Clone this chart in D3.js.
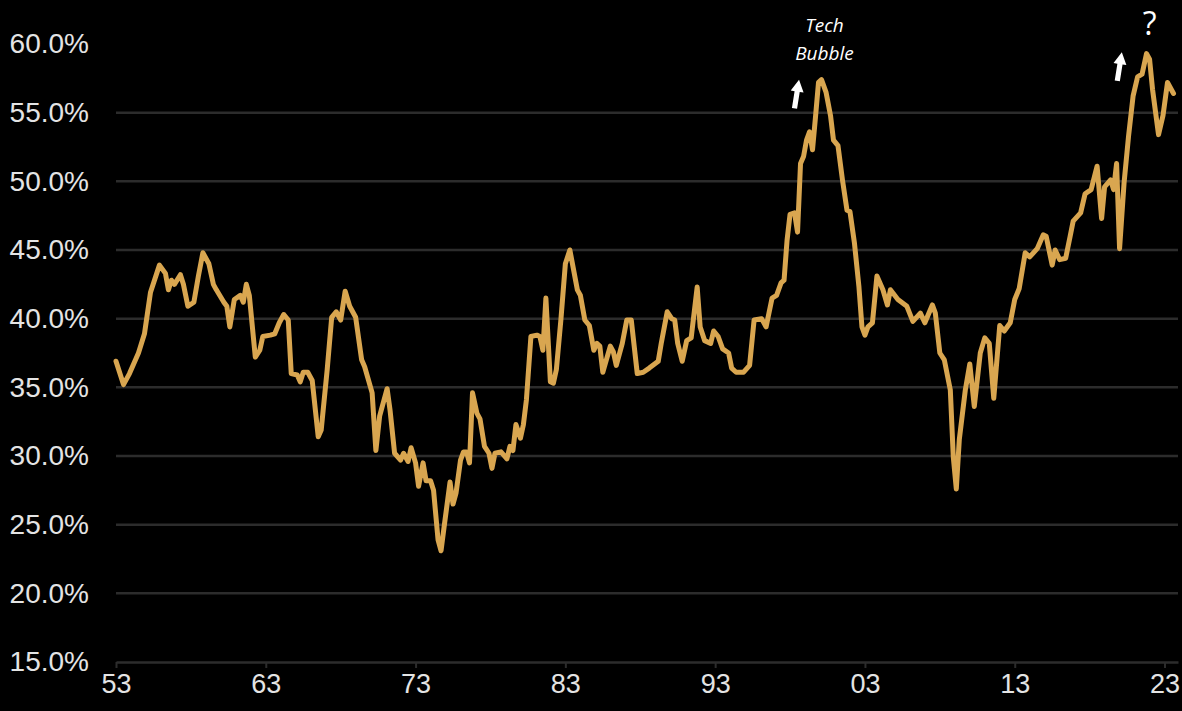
<!DOCTYPE html>
<html>
<head>
<meta charset="utf-8">
<script src="https://cdn.jsdelivr.net/npm/d3@7/dist/d3.min.js"></script>
<style>
  html, body { margin: 0; padding: 0; background: #000; }
  svg { display: block; }
</style>
</head>
<body>
<svg id="chart" width="1182" height="711"></svg>
<script>
// Share of household financial assets held in equities (%), by year
const dates = [
  1953.0, 1953.5, 1953.9, 1954.5, 1954.9, 1955.3, 1955.9, 1956.3, 1956.5, 1956.7,
  1956.9, 1957.3, 1957.5, 1957.8, 1958.2, 1958.5, 1958.8, 1959.2, 1959.5, 1959.7,
  1960.2, 1960.4, 1960.6, 1960.9, 1961.3, 1961.5, 1961.7, 1961.9, 1962.3, 1962.6,
  1962.8, 1963.3, 1963.6, 1963.9, 1964.2, 1964.5, 1964.7, 1965.1, 1965.3, 1965.5,
  1965.8, 1966.1, 1966.5, 1966.7, 1967.1, 1967.4, 1967.7, 1968.0, 1968.3, 1968.6,
  1969.0, 1969.4, 1969.6, 1970.1, 1970.35, 1970.6, 1971.1, 1971.3, 1971.6, 1972.0,
  1972.2, 1972.5, 1972.7, 1973.0, 1973.2, 1973.5, 1973.7, 1974.0, 1974.2, 1974.5,
  1974.7, 1974.9, 1975.3, 1975.5, 1975.7, 1976.0, 1976.2, 1976.4, 1976.6, 1976.8,
  1977.1, 1977.3, 1977.6, 1977.9, 1978.1, 1978.3, 1978.7, 1979.1, 1979.3, 1979.5,
  1979.7, 1980.0, 1980.2, 1980.4, 1980.7, 1981.1, 1981.3, 1981.5, 1981.7, 1982.0,
  1982.2, 1982.4, 1982.7, 1983.0, 1983.3, 1983.8, 1984.0, 1984.3, 1984.6, 1984.9,
  1985.1, 1985.3, 1985.5, 1986.0, 1986.2, 1986.4, 1986.8, 1987.1, 1987.4, 1987.8,
  1988.2, 1988.6, 1989.2, 1989.4, 1989.8, 1990.1, 1990.3, 1990.5, 1990.8, 1991.1,
  1991.4, 1991.8, 1992.0, 1992.3, 1992.7, 1992.9, 1993.2, 1993.5, 1993.9, 1994.1,
  1994.4, 1994.9, 1995.3, 1995.6, 1996.1, 1996.4, 1996.8, 1997.1, 1997.4, 1997.6,
  1997.8, 1998.0, 1998.3, 1998.5, 1998.7, 1998.9, 1999.1, 1999.3, 1999.5, 1999.7,
  1999.9, 2000.1, 2000.4, 2000.7, 2000.9, 2001.2, 2001.5, 2001.8, 2002.0, 2002.3,
  2002.6, 2002.8, 2003.0, 2003.2, 2003.5, 2003.8, 2004.2, 2004.5, 2004.7, 2005.2,
  2005.8, 2006.2, 2006.7, 2007.0, 2007.5, 2007.7, 2008.0, 2008.3, 2008.7, 2008.9,
  2009.1, 2009.3, 2009.7, 2010.0, 2010.3, 2010.7, 2011.0, 2011.3, 2011.6, 2012.0,
  2012.3, 2012.7, 2013.0, 2013.3, 2013.7, 2014.0, 2014.5, 2014.9, 2015.1, 2015.5,
  2015.7, 2016.0, 2016.4, 2016.7, 2016.9, 2017.4, 2017.7, 2018.1, 2018.5, 2018.8,
  2019.0, 2019.4, 2019.6, 2019.8, 2020.0, 2020.3, 2020.6, 2020.9, 2021.2, 2021.5,
  2021.8, 2022.0, 2022.2, 2022.6, 2022.9, 2023.2, 2023.6
];
const share = [
  36.9, 35.2, 36.0, 37.5, 38.9, 41.9, 43.9, 43.3, 42.1, 42.8,
  42.5, 43.2, 42.5, 40.9, 41.2, 43.1, 44.8, 44.0, 42.5, 42.1,
  41.2, 40.9, 39.4, 41.4, 41.7, 41.2, 42.5, 41.7, 37.2, 37.7,
  38.7, 38.8, 38.9, 39.7, 40.3, 39.9, 36.0, 35.9, 35.4, 36.1,
  36.1, 35.5, 31.4, 31.9, 36.3, 40.1, 40.5, 39.9, 42.0, 40.9,
  40.1, 37.0, 36.5, 34.6, 30.4, 32.9, 34.9, 33.3, 30.2, 29.7,
  30.2, 29.6, 30.6, 29.5, 27.8, 29.5, 28.2, 28.2, 27.5, 23.9,
  23.1, 24.8, 28.1, 26.5, 27.3, 29.7, 30.3, 30.3, 29.5, 34.6,
  33.1, 32.7, 30.7, 30.2, 29.1, 30.2, 30.3, 29.8, 30.7, 30.4,
  32.3, 31.3, 32.3, 34.1, 38.7, 38.8, 38.7, 37.7, 41.5, 35.4,
  35.3, 36.3, 39.9, 44.0, 45.0, 42.1, 41.7, 39.9, 39.5, 37.7,
  38.2, 38.0, 36.1, 38.0, 37.6, 36.6, 38.2, 39.9, 39.9, 36.0,
  36.1, 36.4, 36.9, 38.2, 40.5, 40.0, 39.9, 38.2, 36.9, 38.4,
  38.6, 42.3, 39.4, 38.4, 38.2, 39.1, 38.7, 37.8, 37.5, 36.4,
  36.1, 36.1, 36.6, 39.9, 40.0, 39.4, 41.5, 41.7, 42.6, 42.8,
  45.7, 47.6, 47.7, 46.3, 51.3, 51.8, 53.0, 53.6, 52.3, 54.7,
  57.2, 57.4, 56.5, 54.8, 53.0, 52.6, 50.1, 47.9, 47.8, 45.5,
  42.3, 39.4, 38.8, 39.4, 39.7, 43.1, 42.1, 41.0, 42.1, 41.4,
  40.9, 39.8, 40.4, 39.7, 41.0, 40.4, 37.5, 37.0, 34.8, 29.9,
  27.6, 31.2, 34.8, 36.7, 33.6, 37.5, 38.6, 38.2, 34.2, 39.5,
  39.1, 39.7, 41.4, 42.2, 44.8, 44.5, 45.1, 46.1, 46.0, 43.9,
  45.0, 44.3, 44.4, 46.0, 47.1, 47.7, 49.1, 49.4, 51.1, 47.3,
  49.6, 50.1, 49.4, 51.3, 45.1, 49.9, 53.3, 56.2, 57.6, 57.8,
  59.3, 58.9, 56.7, 53.4, 54.8, 57.2, 56.4
];

// Axis ticks
const xTickYears  = [1953, 1963, 1973, 1983, 1993, 2003, 2013, 2023];
const xTickLabels = ["53", "63", "73", "83", "93", "03", "13", "23"];
const yTicks      = [15, 20, 25, 30, 35, 40, 45, 50, 55, 60];
const yGridLines  = [20, 25, 30, 35, 40, 45, 50, 55];

// Annotations: label text, label position and arrow tip (year, %)
const notes = [
  { lines: ["Tech", "Bubble"], year: 2000.3, top: 32, arrowTipYear: 1998.6, arrowTipVal: 57.4 },
  { lines: ["?"], year: 2022.0, top: 35, arrowTipYear: 2020.15, arrowTipVal: 59.4 }
];

const svg = d3.select("#chart");
const W = 1182, H = 711;
const plot = { left: 116, right: 1178, top: 44, bottom: 662 };

svg.append("rect").attr("width", W).attr("height", H).attr("fill", "#000");

const x = d3.scaleLinear().domain([1953, 2023.9]).range([plot.left, plot.right]);
const y = d3.scaleLinear().domain([15, 60]).range([plot.bottom, plot.top]);

const gridColor = "#2c2c2c";
const textColor = "#e4e4e4";
const font = "'Liberation Sans', Arial, sans-serif";

// Horizontal gridlines
svg.append("g")
  .selectAll("line")
  .data(yGridLines)
  .join("line")
  .attr("x1", plot.left)
  .attr("x2", plot.right)
  .attr("y1", d => y(d))
  .attr("y2", d => y(d))
  .attr("stroke", gridColor)
  .attr("stroke-width", 2.5);

// Y axis labels
const yAxis = svg.append("g")
  .attr("transform", `translate(${plot.left},0)`)
  .call(d3.axisLeft(y).tickValues(yTicks).tickSize(0).tickPadding(27)
    .tickFormat(d => d.toFixed(1) + "%"));
yAxis.select(".domain").remove();
yAxis.selectAll("text")
  .attr("fill", textColor)
  .style("font-family", font)
  .style("font-size", "28px");

// X axis
const xAxis = svg.append("g")
  .attr("transform", `translate(0,${plot.bottom})`)
  .call(d3.axisBottom(x).tickValues(xTickYears).tickSizeInner(6).tickSizeOuter(0).tickPadding(6)
    .tickFormat((d, i) => xTickLabels[i]));
xAxis.select(".domain").attr("stroke", gridColor).attr("stroke-width", 2.5);
xAxis.selectAll(".tick line").attr("stroke", gridColor).attr("stroke-width", 2);
xAxis.selectAll("text")
  .attr("fill", textColor)
  .style("font-family", font)
  .style("font-size", "27px");

// Series line
const series = dates.map((d, i) => ({ t: d, v: share[i] }));
svg.append("path")
  .datum(series)
  .attr("fill", "none")
  .attr("stroke", "#d9a650")
  .attr("stroke-width", 5)
  .attr("stroke-linejoin", "round")
  .attr("stroke-linecap", "round")
  .attr("d", d3.line().x(d => x(d.t)).y(d => y(d.v)));

// Annotation text and arrows
const arrowShape = "M0,0 L-6.5,12 L-2.6,12 L-2.6,29 L2.6,29 L2.6,12 L6.5,12 Z";
notes.forEach(n => {
  const g = svg.append("g");
  const isQ = n.lines.length === 1;
  n.lines.forEach((line, i) => {
    g.append("text")
      .attr("x", x(n.year))
      .attr("y", n.top + i * 28)
      .attr("text-anchor", "middle")
      .attr("fill", "#ffffff")
      .style("font-family", "'Open Sans', 'DejaVu Sans', sans-serif")
      .style("font-style", isQ ? "normal" : "italic")
      .style("font-size", isQ ? "32px" : "19px")
      .text(line);
  });
  g.append("path")
    .attr("d", arrowShape)
    .attr("fill", "#ffffff")
    .attr("transform", `translate(${x(n.arrowTipYear)},${y(n.arrowTipVal)}) rotate(9)`);
});
</script>
</body>
</html>
